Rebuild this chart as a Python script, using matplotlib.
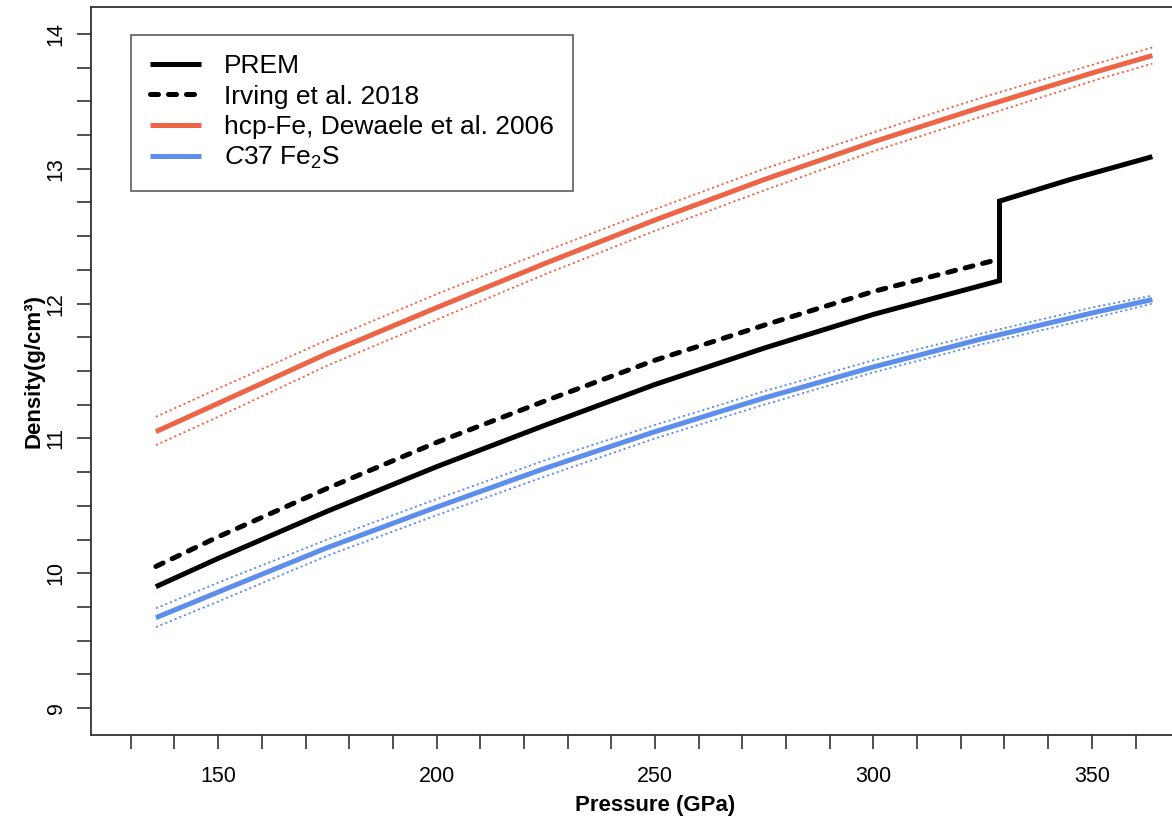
import matplotlib
matplotlib.use("Agg")
import matplotlib.pyplot as plt
from matplotlib.lines import Line2D

plt.rcParams['font.family'] = ['Liberation Sans', 'DejaVu Sans']
plt.rcParams['mathtext.fontset'] = 'custom'
plt.rcParams['mathtext.rm'] = 'Liberation Sans'
plt.rcParams['mathtext.it'] = 'Liberation Sans:italic'
plt.rcParams['mathtext.bf'] = 'Liberation Sans:bold'

# ---------------- data ----------------
prem_p = [135.75, 150, 175, 200, 225, 250, 275, 300, 328.85, 328.85, 345, 363.85]
prem_rho = [9.90, 10.11, 10.46, 10.79, 11.10, 11.40, 11.67, 11.92, 12.17, 12.76, 12.92, 13.09]

irving_p = [135.75, 150, 175, 200, 225, 250, 275, 300, 328.85]
irving_rho = [10.05, 10.27, 10.63, 10.97, 11.28, 11.58, 11.84, 12.09, 12.33]

eos_p = [135.75, 150, 175, 200, 225, 250, 275, 300, 325, 350, 363.85]
fe_rho = [11.05, 11.26, 11.63, 11.97, 12.30, 12.62, 12.92, 13.20, 13.46, 13.71, 13.84]
fe_up = [11.16, 11.37, 11.73, 12.07, 12.39, 12.70, 13.00, 13.27, 13.53, 13.77, 13.90]
fe_lo = [10.95, 11.16, 11.54, 11.88, 12.22, 12.54, 12.84, 13.13, 13.39, 13.65, 13.78]

fe2s_rho = [9.67, 9.86, 10.19, 10.49, 10.78, 11.05, 11.30, 11.53, 11.74, 11.93, 12.03]
fe2s_up = [9.74, 9.93, 10.25, 10.55, 10.84, 11.10, 11.35, 11.58, 11.78, 11.97, 12.06]
fe2s_lo = [9.60, 9.79, 10.13, 10.43, 10.72, 11.00, 11.25, 11.49, 11.70, 11.89, 12.00]

labels = ['PREM', 'Irving et al. 2018', 'hcp-Fe, Dewaele et al. 2006', r'$\it{C}$37 Fe$_2$S']
x_major = [150, 200, 250, 300, 350]
x_minor = list(range(130, 361, 10))
y_major = [9, 10, 11, 12, 13, 14]
y_minor = [9 + 0.25 * i for i in range(21)]

RED = '#EE6446'
BLUE = '#5E8EEC'

W, H = 1172, 823
fig = plt.figure(figsize=(W / 100, H / 100), dpi=100)
# plot region extends past the right edge of the (cropped) image
ax = fig.add_axes([91 / W, 1 - 735 / H, (1219 - 91) / W, 728 / H])

lw = 3.6
dot = (0, (1.2, 1.6))
ax.plot(eos_p, fe_up, color=RED, lw=1.3, ls=dot)
ax.plot(eos_p, fe_lo, color=RED, lw=1.3, ls=dot)
ax.plot(eos_p, fe2s_up, color=BLUE, lw=1.3, ls=dot)
ax.plot(eos_p, fe2s_lo, color=BLUE, lw=1.3, ls=dot)
ax.plot(eos_p, fe_rho, color=RED, lw=lw, solid_capstyle='butt')
ax.plot(eos_p, fe2s_rho, color=BLUE, lw=lw, solid_capstyle='butt')
ax.plot(irving_p, irving_rho, color='black', lw=lw, ls=(0, (1.6, 2.0)), dash_capstyle='round')
ax.plot(prem_p, prem_rho, color='black', lw=lw, solid_capstyle='butt', solid_joinstyle='miter')

ax.set_xlim(120.9, 379.1)
ax.set_ylim(8.8, 14.2)

ax.set_xticks(x_minor)
ax.set_xticklabels([str(v) if v in x_major else '' for v in x_minor])
ax.set_yticks(y_minor)
ax.set_yticklabels([str(int(v)) if v in y_major else '' for v in y_minor],
                   rotation=90, va='center')
ax.tick_params(axis='both', direction='out', length=10, width=1.2, color='#333333',
               labelsize=15.5)
ax.tick_params(axis='x', pad=12)
ax.tick_params(axis='y', pad=7.5)
for s in ['left', 'bottom', 'top', 'right']:
    ax.spines[s].set_linewidth(1.3)
    ax.spines[s].set_color('#333333')

ax.set_xlabel('Pressure (GPa)', fontsize=16, fontweight='bold', labelpad=6)
ax.set_ylabel('Density(g/cm³)', fontsize=16, fontweight='bold')
ax.yaxis.set_label_coords(-(91 - 44) / (1219 - 91), 0.5)

handles = [
    Line2D([], [], color='black', lw=lw, solid_capstyle='butt'),
    Line2D([], [], color='black', lw=lw, ls=(0, (1.6, 2.0)), dash_capstyle='round'),
    Line2D([], [], color=RED, lw=lw, solid_capstyle='butt'),
    Line2D([], [], color=BLUE, lw=lw, solid_capstyle='butt'),
]
leg = ax.legend(handles, labels, loc='upper left',
                bbox_to_anchor=(131 / W, 1 - 35 / H), bbox_transform=fig.transFigure,
                borderaxespad=0, fontsize=19, frameon=True, fancybox=False,
                edgecolor='#333333', handlelength=1.93, handletextpad=0.87,
                labelspacing=0.24, borderpad=0.73)
leg.get_frame().set_linewidth(1.2)

fig.savefig('out.png', dpi=100)
